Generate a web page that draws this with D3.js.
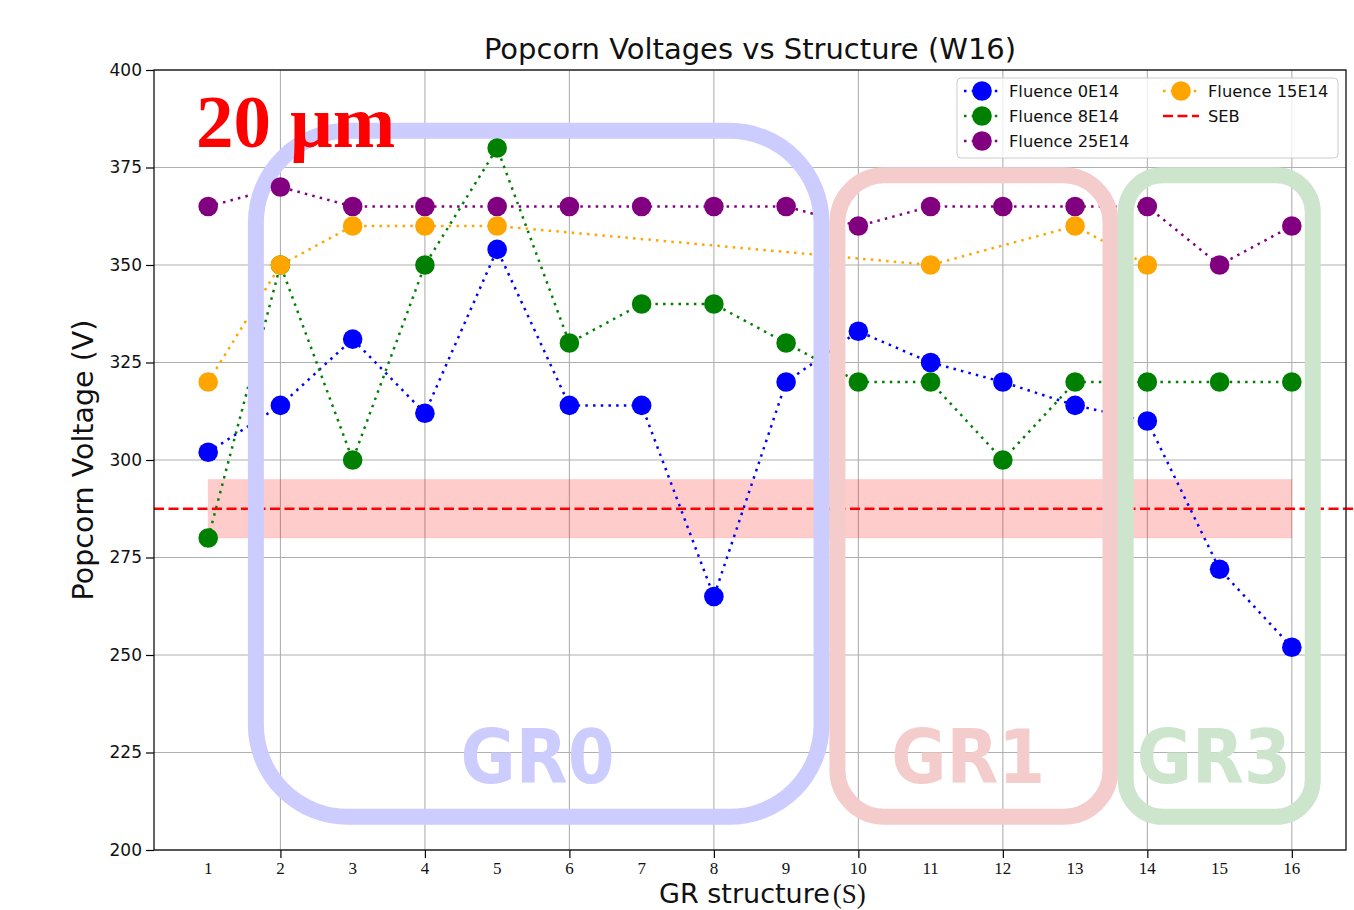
<!DOCTYPE html>
<html>
<head>
<meta charset="utf-8">
<script src="https://cdn.jsdelivr.net/npm/d3@7"></script>
<style>
  body { margin: 0; background: #fff; }
  svg { display: block; }
</style>
</head>
<body>
<div id="chart"></div>
<script>
// 数据
const structures = d3.range(1, 17);
const fluence0 = [302, 314, 331, 312, 354, 314, 314, 265, 320, 333, 325, 320, 314, 310, 272, 252];
const fluence8 = [280, 350, 300, 350, 380, 330, 340, 340, 330, 320, 320, 300, 320, 320, 320, 320];
const fluence25 = [365, 370, 365, 365, 365, 365, 365, 365, 365, 360, 365, 365, 365, 365, 350, 360];
const fluence15Structures = [1, 2, 3, 4, 5, 11, 13, 14];
const fluence15 = [320, 350, 360, 360, 360, 350, 360, 350];
const sebLevel = 287.5;
const sebBand = [280, 295];
const yTicks = d3.range(200, 401, 25);
const xGridTicks = d3.range(2, 17, 2);

// 分组框 (数据坐标)
const groups = [
  { name: "GR0", x0: 1.66, x1: 9.49, y0: 384.4, y1: 208.5, r: 92, color: "#ccccff", labelX: 5.56 },
  { name: "GR1", x0: 9.71, x1: 13.49, y0: 373, y1: 208.5, r: 47, color: "#f4cccc", labelX: 11.52 },
  { name: "GR3", x0: 13.70, x1: 16.29, y0: 373, y1: 208.5, r: 37, color: "#cce5cc", labelX: 14.92 }
];

const width = 1354, height = 910;
const mLeft = 154, mRight = 1346, mTop = 70, mBottom = 850;

const svg = d3.select("#chart").append("svg")
  .attr("width", width)
  .attr("height", height)
  .style("font-family", "'DejaVu Sans', sans-serif");

const x = d3.scaleLinear().domain([0.25, 16.75]).range([mLeft, mRight]);
const y = d3.scaleLinear().domain([200, 400]).range([mBottom, mTop]);

// 网格
svg.append("g").selectAll("line").data(yTicks).join("line")
  .attr("x1", mLeft).attr("x2", mRight)
  .attr("y1", d => y(d)).attr("y2", d => y(d))
  .attr("stroke", "#b0b0b0").attr("stroke-width", 1.1);
svg.append("g").selectAll("line").data(xGridTicks).join("line")
  .attr("x1", d => x(d)).attr("x2", d => x(d))
  .attr("y1", mTop).attr("y2", mBottom)
  .attr("stroke", "#b0b0b0").attr("stroke-width", 1.1);

// SEB 区域
svg.append("rect")
  .attr("x", x(1)).attr("width", x(16) - x(1))
  .attr("y", y(sebBand[1])).attr("height", y(sebBand[0]) - y(sebBand[1]))
  .attr("fill", "red").attr("fill-opacity", 0.2)
  .attr("stroke", "red").attr("stroke-opacity", 0.08);

const series = [
  { xs: structures, ys: fluence0, color: "blue", label: "Fluence 0E14" },
  { xs: structures, ys: fluence8, color: "green", label: "Fluence 8E14" },
  { xs: structures, ys: fluence25, color: "purple", label: "Fluence 25E14" },
  { xs: fluence15Structures, ys: fluence15, color: "orange", label: "Fluence 15E14" }
];

const line = d3.line().x(d => x(d[0])).y(d => y(d[1]));
const dots = "2.5 5.2";

series.forEach(s => {
  const pts = s.xs.map((v, i) => [v, s.ys[i]]);
  svg.append("path")
    .datum(pts)
    .attr("d", line)
    .attr("fill", "none")
    .attr("stroke", s.color)
    .attr("stroke-width", 2.5)
    .attr("stroke-dasharray", dots);
});

// SEB 线
svg.append("line")
  .attr("x1", mLeft).attr("x2", width)
  .attr("y1", y(sebLevel)).attr("y2", y(sebLevel))
  .attr("stroke", "red").attr("stroke-width", 2.7)
  .attr("stroke-dasharray", "10 4.5");

// 圆角框
function roundBox(x0, y0, x1, y1, r) {
  return `M${x0 + r},${y0} L${x1 - r},${y0} A${r},${r} 0 0 1 ${x1},${y0 + r}` +
    ` L${x1},${y1 - r} A${r},${r} 0 0 1 ${x1 - r},${y1}` +
    ` L${x0 + r},${y1} A${r},${r} 0 0 1 ${x0},${y1 - r}` +
    ` L${x0},${y0 + r} A${r},${r} 0 0 1 ${x0 + r},${y0} Z`;
}

groups.forEach(g => {
  svg.append("path")
    .attr("d", roundBox(x(g.x0), y(g.y0), x(g.x1), y(g.y1), g.r))
    .attr("fill", "none")
    .attr("stroke", g.color)
    .attr("stroke-width", 16);
  svg.append("text")
    .attr("x", x(g.labelX)).attr("y", y(217.2))
    .attr("text-anchor", "middle")
    .attr("font-family", "'DejaVu Sans Condensed', 'DejaVu Sans', sans-serif")
    .attr("font-weight", "bold")
    .attr("font-size", 75)
    .attr("textLength", 154)
    .attr("lengthAdjust", "spacingAndGlyphs")
    .attr("fill", g.color)
    .text(g.name);
});

// 数据点
series.forEach(s => {
  svg.append("g").selectAll("circle").data(s.xs).join("circle")
    .attr("cx", d => x(d))
    .attr("cy", (d, i) => y(s.ys[i]))
    .attr("r", 9.8)
    .attr("fill", s.color);
});

// 坐标轴
const yAxis = svg.append("g")
  .attr("transform", `translate(${mLeft},0)`)
  .call(d3.axisLeft(y).tickValues(yTicks).tickSize(8).tickPadding(4));
yAxis.select(".domain").remove();
yAxis.selectAll("text").attr("font-size", 17).attr("font-family", "'DejaVu Sans', sans-serif").attr("fill", "#111");
yAxis.selectAll("line").attr("stroke-width", 1.2);

const xAxis = svg.append("g")
  .attr("transform", `translate(0,${mBottom})`)
  .call(d3.axisBottom(x).tickValues(xGridTicks).tickSize(8).tickFormat(""));
xAxis.select(".domain").remove();
xAxis.selectAll("line").attr("stroke-width", 1.2);

svg.append("g").selectAll("text").data(structures).join("text")
  .attr("x", d => x(d))
  .attr("y", 874)
  .attr("text-anchor", "middle")
  .attr("font-family", "'Liberation Serif', 'Times New Roman', serif")
  .attr("font-size", 17)
  .attr("fill", "#111")
  .text(d => d);

svg.append("rect")
  .attr("x", mLeft).attr("y", mTop)
  .attr("width", mRight - mLeft).attr("height", mBottom - mTop)
  .attr("fill", "none").attr("stroke", "#111").attr("stroke-width", 1.3);

// 标题与轴标签
svg.append("text")
  .attr("x", (mLeft + mRight) / 2).attr("y", 59)
  .attr("text-anchor", "middle")
  .attr("font-size", 29)
  .attr("fill", "#111")
  .text("Popcorn Voltages vs Structure (W16)");

svg.append("text")
  .attr("transform", `translate(93,${(mTop + mBottom) / 2}) rotate(-90)`)
  .attr("text-anchor", "middle")
  .attr("font-size", 28.5)
  .attr("fill", "#111")
  .text("Popcorn Voltage (V)");

const xLabel = svg.append("text")
  .attr("x", 659).attr("y", 903)
  .attr("font-size", 27)
  .attr("fill", "#111");
xLabel.append("tspan").text("GR structure");
xLabel.append("tspan")
  .attr("dx", 3)
  .attr("font-family", "'Liberation Serif', 'Times New Roman', serif")
  .text("(S)");

svg.append("text")
  .attr("x", x(0.83)).attr("y", y(380.3))
  .attr("font-family", "'Liberation Serif', 'Times New Roman', serif")
  .attr("font-weight", "bold")
  .attr("font-size", 75)
  .attr("fill", "red")
  .text("20 µm");

// 图例
const legend = svg.append("g");
legend.append("rect")
  .attr("x", 957).attr("y", 78).attr("width", 381).attr("height", 80)
  .attr("rx", 4)
  .attr("fill", "white").attr("fill-opacity", 0.8)
  .attr("stroke", "#cccccc");

const legendItems = [
  { s: series[0], cx: 982, cy: 91 },
  { s: series[1], cx: 982, cy: 116 },
  { s: series[2], cx: 982, cy: 141 },
  { s: series[3], cx: 1181, cy: 91 }
];
legendItems.forEach(it => {
  legend.append("line")
    .attr("x1", it.cx - 18).attr("x2", it.cx + 18)
    .attr("y1", it.cy).attr("y2", it.cy)
    .attr("stroke", it.s.color).attr("stroke-width", 2.5)
    .attr("stroke-dasharray", dots);
  legend.append("circle")
    .attr("cx", it.cx).attr("cy", it.cy).attr("r", 9.8)
    .attr("fill", it.s.color);
  legend.append("text")
    .attr("x", it.cx + 27).attr("y", it.cy)
    .attr("dy", "0.36em")
    .attr("font-size", 16.3)
    .attr("fill", "#111")
    .text(it.s.label);
});
legend.append("line")
  .attr("x1", 1163).attr("x2", 1199)
  .attr("y1", 116).attr("y2", 116)
  .attr("stroke", "red").attr("stroke-width", 2.7)
  .attr("stroke-dasharray", "10 4.5");
legend.append("text")
  .attr("x", 1208).attr("y", 116)
  .attr("dy", "0.36em")
  .attr("font-size", 16.3)
  .attr("fill", "#111")
  .text("SEB");
</script>
</body>
</html>
